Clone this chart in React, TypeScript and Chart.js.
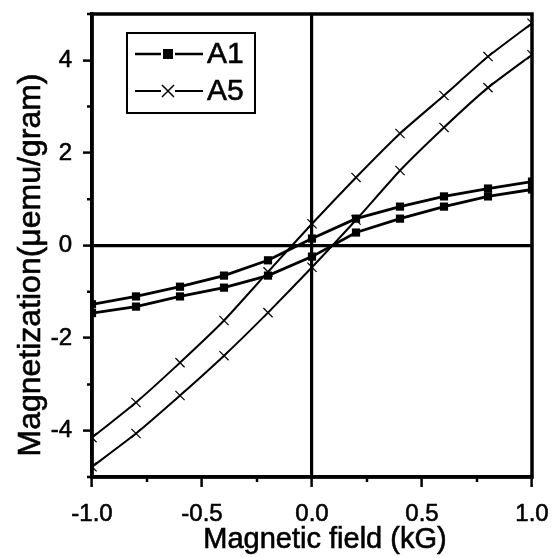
import React, { useEffect, useRef } from 'react';
import { Chart, registerables } from 'chart.js';

Chart.register(...registerables);

// Magnetic field (kG)
const fieldKG = [-1, -0.8, -0.6, -0.4, -0.2, 0, 0.2, 0.4, 0.6, 0.8, 1];
// A1 hysteresis branches (μemu/gram)
const a1Upper = [-1.27, -1.1, -0.89, -0.65, -0.32, 0.15, 0.58, 0.84, 1.06, 1.23, 1.38];
const a1Lower = [-1.46, -1.32, -1.1, -0.91, -0.65, -0.24, 0.28, 0.58, 0.84, 1.06, 1.21];
// A5 hysteresis branches (μemu/gram)
const a5Upper = [-4.15, -3.39, -2.53, -1.62, -0.57, 0.47, 1.47, 2.42, 3.24, 4.08, 4.8];
const a5Lower = [-4.78, -4.06, -3.24, -2.38, -1.45, -0.47, 0.55, 1.62, 2.55, 3.41, 4.12];

const seriesNames = ['A1', 'A5'];
const xMajorTicks = [-1, -0.5, 0, 0.5, 1];
const xMinorTicks = [-0.75, -0.25, 0.25, 0.75];
const yMajorTicks = [-4, -2, 0, 2, 4];
const yMinorTicks = [-5, -3, -1, 1, 3, 5];
const xTitle = 'Magnetic field (kG)';
const yTitle = 'Magnetization(μemu/gram)';

const FONT = '"Liberation Sans", Arial, sans-serif';
const TEXT_STROKE = 0.6;

const near = (a: number, b: number) => Math.abs(a - b) < 1e-9;
const isIn = (v: number, arr: number[]) => arr.some((a) => near(a, v));

const pts = (ys: number[]) => fieldKG.map((x, i) => ({ x, y: ys[i] }));

const zeroPad = (s: any) => {
  s.paddingLeft = 0;
  s.paddingRight = 0;
  s.paddingTop = 0;
  s.paddingBottom = 0;
};

const heavyText = (ctx: any, text: string, x: number, y: number) => {
  ctx.fillText(text, x, y);
  ctx.lineWidth = TEXT_STROKE;
  ctx.strokeStyle = '#000';
  ctx.strokeText(text, x, y);
};

const frameAndTicks = {
  id: 'frameAndTicks',
  afterDatasetsDraw(chart: any) {
    const { ctx, chartArea } = chart;
    const xs = chart.scales.x;
    const ys = chart.scales.y;
    ctx.save();
    ctx.strokeStyle = '#000';
    ctx.lineWidth = 2.5;
    ctx.beginPath();
    xMinorTicks.forEach((v) => {
      const p = xs.getPixelForValue(v);
      ctx.moveTo(p, chartArea.bottom);
      ctx.lineTo(p, chartArea.bottom + 5);
    });
    yMinorTicks.forEach((v) => {
      const p = ys.getPixelForValue(v);
      ctx.moveTo(chartArea.left, p);
      ctx.lineTo(chartArea.left - 5, p);
    });
    ctx.stroke();
    ctx.lineWidth = 3.5;
    ctx.strokeRect(chartArea.left, chartArea.top, chartArea.right - chartArea.left, chartArea.bottom - chartArea.top);
    ctx.restore();
  },
};

const axisTitles = {
  id: 'axisTitles',
  afterDraw(chart: any) {
    const { ctx } = chart;
    ctx.save();
    ctx.fillStyle = '#000';
    ctx.textAlign = 'center';
    ctx.textBaseline = 'middle';
    ctx.font = `29px ${FONT}`;
    heavyText(ctx, xTitle, 325, 540);
    ctx.translate(31, 265);
    ctx.rotate(-Math.PI / 2);
    ctx.font = `32px ${FONT}`;
    heavyText(ctx, yTitle, 0, 0);
    ctx.restore();
  },
};

const boxLegend = {
  id: 'boxLegend',
  afterDraw(chart: any) {
    const { ctx } = chart;
    const left = 127, top = 33, right = 255, bottom = 113;
    ctx.save();
    ctx.fillStyle = '#fff';
    ctx.fillRect(left, top, right - left, bottom - top);
    ctx.strokeStyle = '#000';
    ctx.lineWidth = 2;
    ctx.strokeRect(left, top, right - left, bottom - top);
    const rows = [54, 91];
    seriesNames.forEach((name, i) => {
      const y = rows[i];
      const cx = 168;
      ctx.strokeStyle = '#000';
      ctx.fillStyle = '#000';
      ctx.lineWidth = i === 0 ? 2.5 : 2;
      ctx.beginPath();
      ctx.moveTo(135, y);
      ctx.lineTo(cx - 7, y);
      ctx.moveTo(cx + 7, y);
      ctx.lineTo(203, y);
      ctx.stroke();
      if (i === 0) {
        ctx.fillRect(cx - 5, y - 5, 10, 10);
      } else {
        ctx.lineWidth = 1.5;
        ctx.beginPath();
        ctx.moveTo(cx - 6, y - 6);
        ctx.lineTo(cx + 6, y + 6);
        ctx.moveTo(cx - 6, y + 6);
        ctx.lineTo(cx + 6, y - 6);
        ctx.stroke();
      }
      ctx.font = `30px ${FONT}`;
      ctx.textAlign = 'left';
      ctx.textBaseline = 'middle';
      heavyText(ctx, name, 207, y + 1);
    });
    ctx.restore();
  },
};

export default function App() {
  const ref = useRef<HTMLCanvasElement | null>(null);
  useEffect(() => {
    if (!ref.current) return;
    Chart.defaults.font.family = FONT;
    Chart.defaults.color = '#000';
    const a1Style = {
      borderColor: '#000',
      backgroundColor: '#000',
      borderWidth: 2.8,
      pointStyle: 'rect',
      pointRadius: 5.8,
      pointBackgroundColor: '#000',
      pointBorderColor: '#000',
      pointBorderWidth: 0,
      tension: 0,
    };
    const a5Style = {
      borderColor: '#000',
      backgroundColor: '#000',
      borderWidth: 2,
      pointStyle: 'crossRot',
      pointRadius: 6.5,
      pointBorderColor: '#000',
      pointBorderWidth: 1.2,
      tension: 0.15,
    };
    const chart = new Chart(ref.current, {
      type: 'line',
      data: {
        datasets: [
          { label: seriesNames[0], data: pts(a1Upper), ...a1Style },
          { label: seriesNames[0], data: pts(a1Lower), ...a1Style },
          { label: seriesNames[1], data: pts(a5Upper), ...a5Style },
          { label: seriesNames[1], data: pts(a5Lower), ...a5Style },
        ] as any,
      },
      options: {
        animation: false,
        responsive: false,
        devicePixelRatio: 1,
        layout: { padding: { left: 0, right: 20, top: 14, bottom: 0 } },
        plugins: { legend: { display: false }, tooltip: { enabled: false } },
        scales: {
          x: {
            type: 'linear',
            min: -1,
            max: 1,
            afterFit: (s: any) => { s.height = 81; zeroPad(s); },
            ticks: {
              stepSize: 0.25,
              padding: 13,
              maxRotation: 0,
              autoSkip: false,
              font: { size: 24 },
              textStrokeColor: '#000',
              textStrokeWidth: TEXT_STROKE,
              callback: (v: any) => (isIn(Number(v), xMajorTicks) ? Number(v).toFixed(1) : ''),
            },
            grid: {
              drawOnChartArea: true,
              drawTicks: true,
              tickLength: 10,
              tickWidth: 2.5,
              tickColor: (c: any) => (c.tick && isIn(c.tick.value, xMajorTicks) ? '#000' : 'rgba(0,0,0,0)'),
              color: (c: any) => (c.tick && near(c.tick.value, 0) ? '#000' : 'rgba(0,0,0,0)'),
              lineWidth: 3.2,
            },
            border: { display: true, color: '#000', width: 3.5 },
            title: { display: false },
          },
          y: {
            type: 'linear',
            min: -5,
            max: 5,
            afterFit: (s: any) => { s.width = 92; zeroPad(s); },
            ticks: {
              stepSize: 1,
              padding: 11,
              autoSkip: false,
              font: { size: 24 },
              textStrokeColor: '#000',
              textStrokeWidth: TEXT_STROKE,
              callback: (v: any) => (isIn(Number(v), yMajorTicks) ? String(v) : ''),
            },
            grid: {
              drawOnChartArea: true,
              drawTicks: true,
              tickLength: 9,
              tickWidth: 2.5,
              tickColor: (c: any) => (c.tick && isIn(c.tick.value, yMajorTicks) ? '#000' : 'rgba(0,0,0,0)'),
              color: (c: any) => (c.tick && near(c.tick.value, 0) ? '#000' : 'rgba(0,0,0,0)'),
              lineWidth: 3.2,
            },
            border: { display: true, color: '#000', width: 3.5 },
            title: { display: false },
          },
        },
      } as any,
      plugins: [frameAndTicks, axisTitles, boxLegend],
    });
    return () => chart.destroy();
  }, []);
  return (
    <div style={{ position: 'absolute', left: 0, top: 0, width: 552, height: 558, background: '#fff' }}>
      <canvas ref={ref} width={552} height={558} style={{ display: 'block', width: 552, height: 558 }} />
    </div>
  );
}
